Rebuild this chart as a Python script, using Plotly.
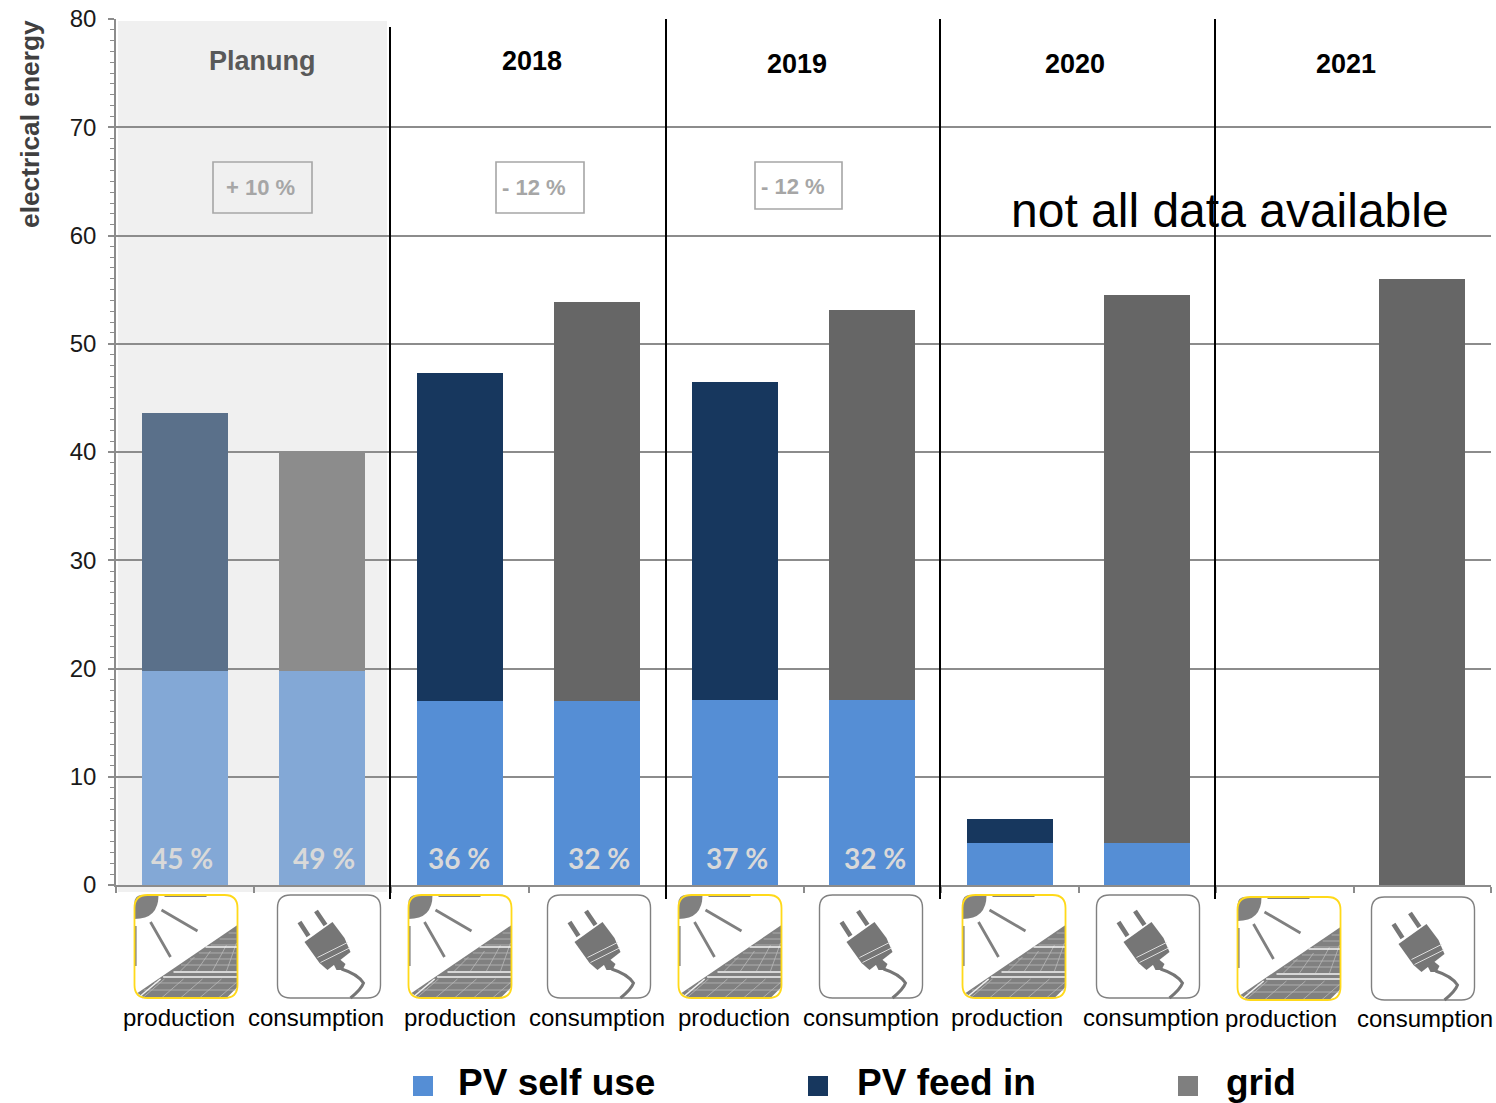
import plotly.graph_objects as go

# ---------- data ----------
categories = ["Planung production", "Planung consumption", "2018 production", "2018 consumption",
              "2019 production", "2019 consumption", "2020 production", "2020 consumption",
              "2021 production", "2021 consumption"]
pv_self_use = [19.8, 19.8, 17.0, 17.0, 17.1, 17.1, 3.9, 3.9, None, None]
pv_feed_in = [23.8, None, 30.3, None, 29.4, None, 2.2, None, None, None]
grid_power = [None, 20.2, None, 36.9, None, 36.0, None, 50.6, None, 56.0]
self_colors = ["#83a8d6", "#83a8d6"] + ["#558ed5"] * 8
feed_colors = ["#5a708a", "#5a708a"] + ["#17375e"] * 8
grid_colors = ["#8c8c8c", "#8c8c8c"] + ["#666666"] * 8
period_labels = ["Planung", "2018", "2019", "2020", "2021"]
change_labels = ["+ 10 %", "- 12 %", "- 12 %"]
share_labels = ["45 %", "49 %", "36 %", "32 %", "37 %", "32 %"]
bar_labels = ["production", "consumption"] * 5
legend_labels = ["PV self use", "PV feed in", "grid"]

# ---------- pixel helpers (decoration only) ----------
W, H = 1496, 1103
L, R, T, B = 116, 1491, 19, 885
GRAY = "#808080"
PLUG = "#767676"


def px(x):
    return (x - L) / (R - L)


def py(y):
    return (B - y) / (B - T)


def note(text, x, y, size, color="#000000", bold=False, family="Liberation Sans", angle=0):
    return dict(text=f"<b>{text}</b>" if bold else text, x=px(x), y=py(y), xref="paper", yref="paper",
                xanchor="center", yanchor="middle", showarrow=False, textangle=angle,
                font=dict(size=size, color=color, family=family))


def path(points, close=False):
    s = "M " + " L ".join(f"{px(x):.5f},{py(y):.5f}" for x, y in points)
    return s + (" Z" if close else "")


def rounded(x0, y0, s, r):
    k = lambda a, b: f"{px(x0 + a):.5f},{py(y0 + b):.5f}"
    return (f"M {k(r, 0)} L {k(s - r, 0)} Q {k(s, 0)} {k(s, r)} L {k(s, s - r)} Q {k(s, s)} {k(s - r, s)} "
            f"L {k(r, s)} Q {k(0, s)} {k(0, s - r)} L {k(0, r)} Q {k(0, 0)} {k(r, 0)} Z")


def shape_path(d, fill=None, line=None, width=1.0, layer="above"):
    return dict(type="path", xref="paper", yref="paper", path=d, layer=layer,
                fillcolor=fill if fill else "rgba(0,0,0,0)",
                line=dict(color=line if line else "rgba(0,0,0,0)", width=width))


def production_icon(x0, y0):
    P = lambda a, b: (x0 + a, y0 + b)
    S = 103
    hyp = lambda y: 3.3 + (97 - y) * 99.7 / 67
    k = lambda a, b: f"{px(x0 + a):.5f},{py(y0 + b):.5f}"
    out = [shape_path(rounded(x0, y0, S, 13), fill="#ffffff")]
    out.append(shape_path(f"M {k(8, 0)} L {k(24, 0)} Q {k(24, 24)} {k(0, 24)} L {k(0, 8)} Q {k(0, 0)} {k(8, 0)} Z", fill=GRAY))
    out.append(shape_path(path([P(27, 15), P(63, 36)]) + " " + path([P(16, 27), P(36, 62)]), line=GRAY, width=2.8))
    out.append(shape_path(path([P(30, 1), P(72, 1)]) + " " + path([P(1, 31), P(1, 71)]), line=GRAY, width=2.2))
    out.append(shape_path(path([P(103, 30), P(103, 92), P(92, 103), P(10, 103), P(3, 98)], close=True), fill=GRAY))
    thin = []
    for y in (38, 44, 50, 58, 64, 70, 88, 95):
        thin.append(path([P(hyp(y) + 3, y), P(102, y)]))
    for a in (8, 27, 46, 65):
        thin.append(path([P(a, 103), P(a + 22, 84)]))
    thin.append(path([P(84, 103), P(102, 87.5)]))
    for a, b, top in ((46, 60, 62), (62, 76, 56), (78, 92, 50), (92, 102, 48)):
        thin.append(path([P(a, 76), P(b, top)]))
    out.append(shape_path(" ".join(thin), line="#b9b9b9", width=0.8))
    out.append(shape_path(path([P(hyp(82) + 3, 82), P(102.5, 82)]) + " " + path([P(39, 77), P(102.5, 77)]) + " "
                          + path([P(71, 52), P(102.5, 52)]) + " " + path([P(6, 101), P(hyp(83) + 2, 84)]),
                          line="#f2f2f2", width=1.5))
    out.append(shape_path(rounded(x0, y0, S, 13), line="#ffd91a", width=1.8))
    return out


def consumption_icon(x0, y0):
    P = lambda a, b: (x0 + a, y0 + b)
    S = 103
    k = lambda a, b: f"{px(x0 + a):.5f},{py(y0 + b):.5f}"
    out = [shape_path(rounded(x0, y0, S, 13), fill="#ffffff", line=GRAY, width=1.4)]
    out.append(shape_path(path([P(22, 27), P(31, 41)]) + " " + path([P(38.5, 16), P(48, 30)]), line=PLUG, width=4.6))
    out.append(shape_path(path([P(27, 47), P(55, 27), P(67, 43), P(73, 57), P(50, 75), P(42, 68)], close=True), fill=PLUG))
    out.append(shape_path(path([P(40, 62.5), P(70, 47.5)]) + " " + path([P(43, 67.5), P(72, 53)]), line="#dcdcdc", width=1.0))
    out.append(shape_path(path([P(56, 69), P(62, 64), P(68, 69), P(65, 75), P(59, 75)], close=True), fill=PLUG))
    out.append(shape_path(f"M {k(64, 74)} Q {k(80, 79)} {k(86, 88)} Q {k(84, 94)} {k(73, 103)}", line=PLUG, width=3))
    return out


# ---------- traces ----------
fig = go.Figure()
fig.add_bar(x=categories, y=pv_self_use, name=legend_labels[0], marker=dict(color=self_colors, line_width=0))
fig.add_bar(x=categories, y=pv_feed_in, name=legend_labels[1], marker=dict(color=feed_colors, line_width=0))
fig.add_bar(x=categories, y=grid_power, name=legend_labels[2], marker=dict(color=grid_colors, line_width=0))

# ---------- decoration ----------
shapes = [dict(type="rect", xref="paper", yref="paper", x0=px(118), x1=px(387), y0=py(21), y1=py(892),
               fillcolor="#f0f0f0", line_width=0, layer="below")]
for x, top in ((390, 27), (666, 19), (940, 19), (1215, 19)):
    shapes.append(dict(type="line", xref="paper", yref="paper", x0=px(x), x1=px(x), y0=py(top), y1=py(899),
                       line=dict(color="#000000", width=2)))
for x0, y0, x1, y1 in ((213, 162, 312, 213), (496, 162, 584, 213), (755, 162, 842, 209)):
    shapes.append(dict(type="rect", xref="paper", yref="paper", x0=px(x0), x1=px(x1), y0=py(y0), y1=py(y1),
                       line=dict(color="#a6a6a6", width=1.6), fillcolor="rgba(0,0,0,0)"))

for x0, y0 in ((134, 895), (408, 895), (678, 895), (962, 895), (1237, 897)):
    shapes += production_icon(x0 + 0.5, y0)
for x0, y0 in ((277, 895), (547, 895), (819, 895), (1096, 895), (1371, 897)):
    shapes += consumption_icon(x0 + 0.5, y0)

for x, color in ((423, "#558ed5"), (818, "#17375e"), (1188, "#7f7f7f")):
    shapes.append(dict(type="rect", xref="paper", yref="paper", x0=px(x - 10), x1=px(x + 10), y0=py(1076), y1=py(1096),
                       fillcolor=color, line_width=0))

annotations = [note("electrical energy", 30, 124, 26.3, "#404040", True, angle=-90)]
period_pos = [(262, 61), (531.5, 60.5), (796.5, 64), (1075, 64), (1345.5, 64)]
for i, (text, (x, y)) in enumerate(zip(period_labels, period_pos)):
    annotations.append(note(text, x, y, 27, "#595959" if i == 0 else "#000000", True))
for text, (x, y) in zip(change_labels, ((260, 187), (534, 187), (793, 186))):
    annotations.append(note(text, x, y, 22, "#a6a6a6", True))
for text, x in zip(share_labels, (182, 324, 459, 599, 737, 875)):
    annotations.append(note(text, x, 858, 28, "#d9d9d9", True, family="Lato"))
label_pos = [(179, 1018), (316, 1018), (460, 1018), (597, 1018), (734, 1018), (871, 1018),
             (1007, 1018), (1151, 1018), (1281, 1019), (1425, 1019)]
for text, (x, y) in zip(bar_labels, label_pos):
    annotations.append(note(text, x, y - 1, 24))
annotations.append(note("not all data available", 1230, 210, 48))
for text, x in zip(legend_labels, (556, 946, 1261)):
    annotations.append(note(text, x, 1082, 37, "#000000", True))

fig.update_layout(
    width=W, height=H, autosize=False, showlegend=False, barmode="stack", bargap=0.374,
    margin=dict(l=L, r=W - R, t=T, b=H - B, pad=0),
    paper_bgcolor="#ffffff", plot_bgcolor="rgba(0,0,0,0)",
    font=dict(family="Liberation Sans", size=24, color="#1a1a1a"),
    shapes=shapes, annotations=annotations,
    xaxis=dict(type="category", categoryorder="array", categoryarray=categories, showticklabels=False,
               tickson="boundaries", ticks="outside", ticklen=6, tickwidth=1.5, tickcolor="#8c8c8c",
               showgrid=False, showline=True, linecolor="#8c8c8c", linewidth=2, zeroline=False, automargin=False),
    yaxis=dict(range=[0, 80], dtick=10, tick0=0, ticks="outside", ticklen=6, tickwidth=1.5, tickcolor="#8c8c8c",
               showgrid=True, gridcolor="#8c8c8c", gridwidth=1.5, zeroline=False,
               showline=True, linecolor="#8c8c8c", linewidth=1.5, ticklabelstandoff=7, automargin=False,
               tickfont=dict(size=24, color="#1a1a1a"),
               minor=dict(dtick=1, tick0=0, ticks="outside", ticklen=4, tickwidth=1, tickcolor="#8c8c8c", showgrid=False)),
)

fig.write_html("out.html", config=dict(displayModeBar=False), post_script="document.body.style.margin='0';")
